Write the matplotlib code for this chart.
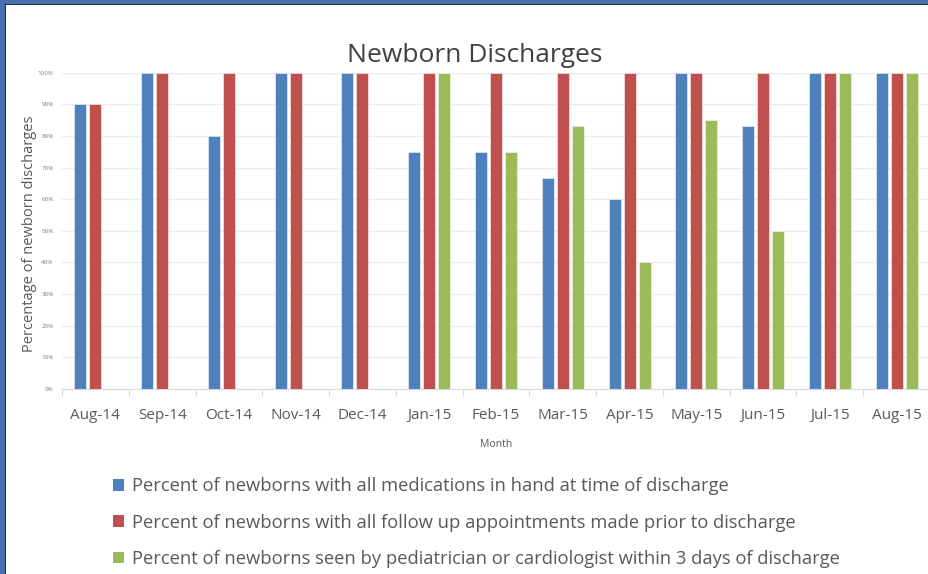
import numpy as np
import matplotlib
matplotlib.use("Agg")
import matplotlib.pyplot as plt
from matplotlib.patches import Rectangle, Patch

months = ["Aug-14", "Sep-14", "Oct-14", "Nov-14", "Dec-14", "Jan-15", "Feb-15",
          "Mar-15", "Apr-15", "May-15", "Jun-15", "Jul-15", "Aug-15"]
meds = [90, 100, 80, 100, 100, 75, 75, 66.7, 60, 100, 83.3, 100, 100]
followup = [90, 100, 100, 100, 100, 100, 100, 100, 100, 100, 100, 100, 100]
seen = [np.nan, np.nan, np.nan, np.nan, np.nan, 100, 75, 83.3, 40, 85, 50, 100, 100]
series_labels = [
    "Percent of newborns with all medications in hand at time of discharge",
    "Percent of newborns with all follow up appointments made prior to discharge",
    "Percent of newborns seen by pediatrician or cardiologist within 3 days of discharge",
]
yticks = [0, 10, 20, 30, 40, 50, 60, 70, 80, 90, 100]
colors = ["#4F81BD", "#C0504D", "#9BBB59"]

plt.rcParams['font.family'] = ['Open Sans', 'DejaVu Sans']
W, H = 929, 574
fig = plt.figure(figsize=(W / 100, H / 100), dpi=100)
fig.patch.set_facecolor("white")

ax = fig.add_axes([62 / W, 1 - 389 / H, (930 - 62) / W, (389 - 72.7) / H])
x = np.arange(len(months))
step = 0.225
width = 0.18
for i, (vals, c) in enumerate(zip([meds, followup, seen], colors)):
    ax.bar(x + (i - 1) * step, vals, width=width, color=c,
           edgecolor=(1, 1, 1, 0.6), linewidth=0.6, zorder=3)

ax.set_xlim(-0.5, len(months) - 0.5)
ax.set_ylim(0, 100)
ax.set_yticks(yticks)
ax.set_yticklabels([f"{v}%" for v in yticks], fontsize=4.5, color="#7f7f7f")
ax.tick_params(axis='y', length=0, pad=6)
ax.set_xticks(x)
ax.set_xticklabels(months, fontsize=11, color="#595959")
ax.set_xticks(np.arange(len(months) + 1) - 0.5, minor=True)
ax.tick_params(axis='x', which='major', length=0, pad=14)
ax.tick_params(axis='x', which='minor', length=5, color="#d9d9d9", width=0.8)
ax.grid(axis='y', color="#ececec", linewidth=1, zorder=0)
for s in ["top", "right", "left"]:
    ax.spines[s].set_visible(False)
ax.spines["bottom"].set_color("#d9d9d9")
ax.set_facecolor("white")

ax.set_ylabel("Percentage of newborn discharges", fontsize=10.5, color="#595959")
ax.yaxis.set_label_coords(-0.029, 0.49)
ax.set_xlabel("Month", fontsize=7.5, color="#595959", labelpad=11)

fig.text(475 / W, 1 - 55 / H, "Newborn Discharges", ha="center", va="center",
         fontsize=19, color="#404040")

handles = [Patch(facecolor=c, edgecolor='none') for c in colors]
fig.legend(handles, series_labels, loc="upper left", bbox_to_anchor=(104 / W, 1 - 468 / H),
           frameon=False, fontsize=13.2, labelcolor="#595959", handlelength=0.6,
           handleheight=0.6, handletextpad=0.45, labelspacing=1.0, borderpad=0)

# frame border (top and left)
fig.patches.append(Rectangle((0, 1 - 4 / H), 1, 4 / H, transform=fig.transFigure,
                             facecolor="#4670b0", edgecolor='none', zorder=10))
fig.patches.append(Rectangle((0, 1 - 5 / H), 1, 1 / H, transform=fig.transFigure,
                             facecolor="#1e2a40", edgecolor='none', zorder=10))
fig.patches.append(Rectangle((0, 0), 5 / W, 1, transform=fig.transFigure,
                             facecolor="#4670b0", edgecolor='none', zorder=10))
fig.patches.append(Rectangle((5 / W, 0), 1.2 / W, 1 - 4 / H, transform=fig.transFigure,
                             facecolor="#1e2a40", edgecolor='none', zorder=10))

fig.savefig("out.png", dpi=100)
